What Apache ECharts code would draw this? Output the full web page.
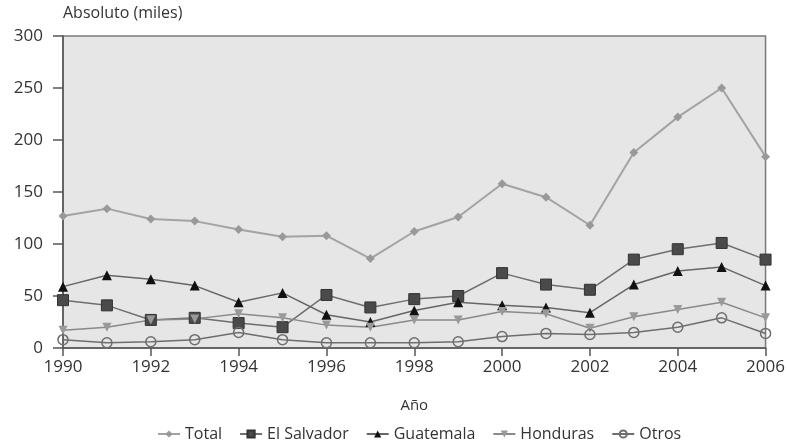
<!DOCTYPE html>
<html>
<head>
<meta charset="utf-8">
<script src="https://cdn.jsdelivr.net/npm/echarts@6/dist/echarts.min.js"></script>
<style>
  html, body { margin: 0; padding: 0; background: #fff; }
  #chart { width: 788px; height: 440px; }
</style>
</head>
<body>
<div id="chart"></div>
<script>
// Migración por país de origen, valores absolutos en miles
const years = [1990, 1991, 1992, 1993, 1994, 1995, 1996, 1997, 1998, 1999, 2000, 2001, 2002, 2003, 2004, 2005, 2006];
const total      = [127, 134, 124, 122, 114, 107, 108, 86, 112, 126, 158, 145, 118, 188, 222, 250, 184];
const elSalvador = [46, 41, 27, 29, 24, 20, 51, 39, 47, 50, 72, 61, 56, 85, 95, 101, 85];
const guatemala  = [59, 70, 66, 60, 44, 53, 32, 25, 36, 44, 41, 39, 34, 61, 74, 78, 60];
const honduras   = [17, 20, 27, 28, 33, 29, 22, 20, 27, 27, 35, 33, 19, 30, 37, 44, 29];
const otros      = [8, 5, 6, 8, 15, 8, 5, 5, 5, 6, 11, 14, 13, 15, 20, 29, 14];

const yTicks = { min: 0, max: 300, interval: 50 };
const xTicks = { min: 1990, max: 2006, interval: 2 };

const pairs = arr => years.map((y, i) => [y, arr[i]]);
const font = '"Open Sans", "DejaVu Sans", sans-serif';

const chart = echarts.init(document.getElementById('chart'), null, { renderer: 'canvas' });
chart.setOption({
  animation: false,
  backgroundColor: '#fff',
  textStyle: { fontFamily: font },
  grid: {
    left: 63, right: 19, top: 36, bottom: 92,
    show: true, backgroundColor: '#e6e6e6', borderColor: '#7a7a7a', borderWidth: 1.5
  },
  xAxis: {
    type: 'value',
    min: xTicks.min, max: xTicks.max, interval: xTicks.interval,
    name: 'Año', nameLocation: 'middle', nameGap: 50,
    nameTextStyle: { fontSize: 15, color: '#333', fontFamily: font },
    axisLine: { show: true, onZero: false, lineStyle: { color: '#555', width: 1.5 } },
    axisTick: { show: true, length: 8, lineStyle: { color: '#555', width: 1.5 } },
    axisLabel: { fontSize: 17, color: '#333', margin: 11, formatter: v => String(v) },
    splitLine: { show: false }
  },
  yAxis: {
    type: 'value',
    min: yTicks.min, max: yTicks.max, interval: yTicks.interval,
    name: 'Absoluto (miles)', nameLocation: 'end', nameGap: 15,
    nameTextStyle: { fontSize: 16, color: '#333', align: 'left', fontFamily: font },
    axisLine: { show: true, lineStyle: { color: '#555', width: 1.5 } },
    axisTick: { show: true, length: 10, lineStyle: { color: '#555', width: 1.5 } },
    axisLabel: { fontSize: 17, color: '#333', margin: 20 },
    splitLine: { show: false }
  },
  legend: {
    top: 421, left: 152,
    itemWidth: 22, itemHeight: 9, itemGap: 17,
    textStyle: { fontSize: 16, color: '#333', fontFamily: font },
    data: ['Total', 'El Salvador', 'Guatemala', 'Honduras', 'Otros']
  },
  series: [
    {
      name: 'Total', type: 'line', data: pairs(total),
      symbol: 'diamond', symbolSize: 9,
      lineStyle: { color: '#a3a3a3', width: 2 },
      itemStyle: { color: '#999' }
    },
    {
      name: 'El Salvador', type: 'line', data: pairs(elSalvador),
      symbol: 'rect', symbolSize: 11,
      lineStyle: { color: '#6e6e6e', width: 1.5 },
      itemStyle: { color: '#4a4a4a', borderColor: '#333', borderWidth: 1 }
    },
    {
      name: 'Guatemala', type: 'line', data: pairs(guatemala),
      symbol: 'triangle', symbolSize: 10,
      lineStyle: { color: '#666', width: 1.5 },
      itemStyle: { color: '#111' }
    },
    {
      name: 'Honduras', type: 'line', data: pairs(honduras),
      symbol: 'triangle', symbolRotate: 180, symbolSize: 9,
      lineStyle: { color: '#8a8a8a', width: 1.5 },
      itemStyle: { color: '#999' }
    },
    {
      name: 'Otros', type: 'line', data: pairs(otros),
      symbol: 'circle', symbolSize: 10,
      lineStyle: { color: '#6e6e6e', width: 1.5 },
      itemStyle: { color: 'rgba(0,0,0,0)', borderColor: '#6e6e6e', borderWidth: 1.5 }
    }
  ]
});
</script>
</body>
</html>
